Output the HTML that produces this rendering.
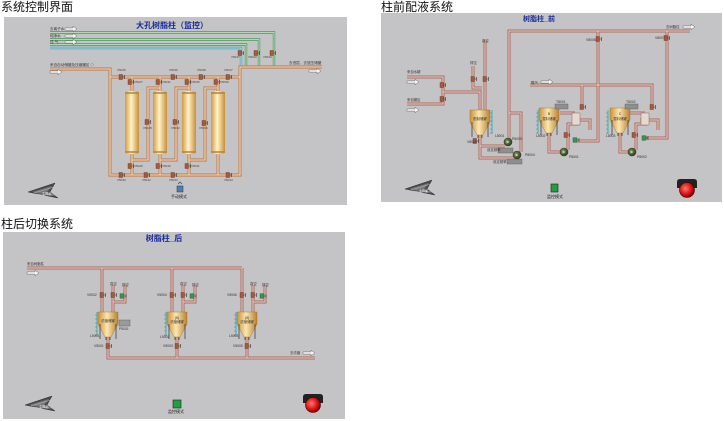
<!DOCTYPE html>
<html><head><meta charset="utf-8">
<style>
html,body{margin:0;padding:0;background:#fff;width:724px;height:421px;overflow:hidden}
svg{display:block}
</style></head>
<body>
<svg width="724" height="421" viewBox="0 0 724 421" xmlns="http://www.w3.org/2000/svg" xmlns:xlink="http://www.w3.org/1999/xlink" font-family="'Liberation Sans','Noto Sans CJK SC',sans-serif">
<defs>
  <linearGradient id="gc" x1="0" x2="1" y1="0" y2="0">
    <stop offset="0" stop-color="#d49a3e"/><stop offset=".45" stop-color="#fff3cc"/><stop offset="1" stop-color="#c98f32"/>
  </linearGradient>
  <linearGradient id="gt" x1="0" x2="1" y1="0" y2="0">
    <stop offset="0" stop-color="#c8923a"/><stop offset=".45" stop-color="#fbe6b0"/><stop offset="1" stop-color="#b9822c"/>
  </linearGradient>
  <radialGradient id="gr" cx=".4" cy=".4" r=".6">
    <stop offset="0" stop-color="#ff7a70"/><stop offset=".6" stop-color="#e01818"/><stop offset="1" stop-color="#8a0000"/>
  </radialGradient>
  <radialGradient id="gp" cx=".4" cy=".4" r=".6">
    <stop offset="0" stop-color="#6e9a5e"/><stop offset="1" stop-color="#2a3e26"/>
  </radialGradient>
  <g id="v"><rect x="-2" y="-2.5" width="3.5" height="5" fill="#a65a3c" stroke="#6a3422" stroke-width=".4"/><path d="M1.5,0h2M3.5,-2v4" stroke="#333" stroke-width=".6" fill="none"/></g>
  <g id="vg"><rect x="-2" y="-2.2" width="4" height="4.4" fill="#2f9a4a" stroke="#1d4d2a" stroke-width=".4"/><path d="M2,0h2M4,-2v4" stroke="#333" stroke-width=".6" fill="none"/></g>
  <g id="ar"><path d="M0,-1.1h8v-1.7l4,2.8l-4,2.8v-1.7h-8z" fill="#f4f4f4" stroke="#6a6a6a" stroke-width=".5"/></g>
  <g id="tk">
    <path d="M-10,0H10V12L3,25H-3L-10,12Z" fill="url(#gt)" stroke="#9a7030" stroke-width=".4"/>
    <path d="M-8,12V27M8,12V27M-2,25V28M2,25V28" stroke="#333" stroke-width=".7"/>
  </g>
  <g id="pm"><circle r="4" fill="url(#gp)" stroke="#5a3024" stroke-width=".6"/><path d="M-1.5,-1.5L1.5,0L-1.5,1.5Z" fill="#aee0a0"/></g>
  <g id="gg"><path d="M0,0V24" stroke="#3ab0b8" stroke-width="1"/><path d="M-2,3h2M-2,7h2M-2,11h2M-2,15h2M-2,19h2M-2,23h2" stroke="#2a8a98" stroke-width=".6"/></g>
  <g id="back">
    <path d="M0,0L27,-9L22,0L30,6Z" fill="#4a4a4a" stroke="#2e2e2e" stroke-width=".5"/>
    <path d="M4,0L24,-6L19,0L26,4Z" fill="#7a7a7a"/>
    <path d="M6,1L26,-5M8,2L27,3" stroke="#ccc" stroke-width=".4"/>
  </g>
  <g id="rb">
    <path d="M-10,-2V-8Q-10,-11 -7,-11H7Q10,-11 10,-8V-2Z" fill="#222"/>
    <circle r="7.5" fill="url(#gr)" stroke="#3a0000" stroke-width=".6"/>
  </g>
</defs>

<!-- section titles -->
<text x="1" y="11" font-size="12" fill="#111">系统控制界面</text>
<text x="381" y="11" font-size="12" fill="#111">柱前配液系统</text>
<text x="1" y="228" font-size="12" fill="#111">柱后切换系统</text>

<!-- panels -->
<rect x="4" y="17" width="343" height="188" fill="#c4c4c6"/>
<rect x="381" y="13" width="341" height="189" fill="#c4c4c6"/>
<rect x="3" y="232" width="342" height="187" fill="#c4c4c6"/>

<!-- ================= PANEL 1 ================= -->
<text x="172" y="28" font-size="8" font-weight="bold" fill="#1a2a9a" text-anchor="middle">大孔树脂柱（监控）</text>

<!-- green supply lines -->
<g fill="none">
  <path d="M50,32.5H274V66M50,39.5H259V66M50,44.5H246V66" stroke="#4d9a5c" stroke-width="2.4"/>
  <path d="M50,32.5H274V66M50,39.5H259V66M50,44.5H246V66" stroke="#d6ecd4" stroke-width=".8"/>
  <path d="M50,48H241V66" stroke="#4aa0b4" stroke-width="2.4"/>
  <path d="M50,48H241V66" stroke="#d0eef2" stroke-width=".8"/>
</g>
<g font-size="3.6" fill="#333">
  <text x="50" y="30">去离子水</text><text x="50" y="37">纯净水</text><text x="50" y="43">压 气</text>
</g>
<use xlink:href="#ar" x="65" y="29"/><use xlink:href="#ar" x="65" y="36"/><use xlink:href="#ar" x="65" y="42"/>
<use xlink:href="#v" x="240" y="53"/><use xlink:href="#v" x="256" y="53"/><use xlink:href="#v" x="272" y="53"/>
<g font-size="3" fill="#444"><text x="231" y="58">V5037</text><text x="248" y="58">V5033</text><text x="263" y="58">V5034</text></g>

<!-- orange pipes -->
<g id="p1" fill="none">
  <path d="M50,69H110V175H240V67H322"/>
  <path d="M110,77H240"/>
  <path d="M132,77V92M160,77V92M189,77V92M218,77V92"/>
  <path d="M132,153V175M160,153V175M189,153V175M218,153V175"/>
  <path d="M132,160H148V88H160M160,160H176V88H189M189,160H205V88H218"/>
</g>
<use xlink:href="#p1" stroke="#c0845a" stroke-width="3.2"/>
<use xlink:href="#p1" stroke="#f4d6b6" stroke-width="1.1"/>

<!-- columns -->
<g>
  <rect x="125" y="91" width="14" height="63" rx="3" fill="url(#gc)"/>
  <rect x="153" y="91" width="14" height="63" rx="3" fill="url(#gc)"/>
  <rect x="182" y="91" width="14" height="63" rx="3" fill="url(#gc)"/>
  <rect x="211" y="91" width="14" height="63" rx="3" fill="url(#gc)"/>
  <path d="M125,93h14M153,93h14M182,93h14M211,93h14M125,152h14M153,152h14M182,152h14M211,152h14" stroke="#b98232" stroke-width="1.4"/>
</g>

<g font-size="3.6" fill="#333">
  <text x="50" y="66">来自自动储罐及压缩罐区 ◇</text>
  <text x="289" y="64">去低层，去放压储罐</text>
</g>
<use xlink:href="#ar" x="50" y="72"/><use xlink:href="#ar" x="309" y="71"/>

<!-- valves panel 1 -->
<use xlink:href="#v" x="121" y="77"/><use xlink:href="#v" x="173" y="77"/><use xlink:href="#v" x="201" y="77"/><use xlink:href="#v" x="228" y="77"/>
<use xlink:href="#v" x="130" y="82"/><use xlink:href="#v" x="158" y="82"/><use xlink:href="#v" x="187" y="82"/><use xlink:href="#v" x="216" y="82"/>
<use xlink:href="#v" x="147" y="122"/><use xlink:href="#v" x="175" y="122"/><use xlink:href="#v" x="204" y="123"/>
<use xlink:href="#v" x="130" y="166"/><use xlink:href="#v" x="158" y="166"/><use xlink:href="#v" x="187" y="166"/>
<use xlink:href="#v" x="121" y="175"/><use xlink:href="#v" x="146" y="175"/><use xlink:href="#v" x="173" y="175"/><use xlink:href="#v" x="228" y="175"/>
<g font-size="3" fill="#444">
  <text x="117" y="71">V5035</text><text x="169" y="71">V5036</text><text x="197" y="71">V5038</text><text x="224" y="71">V5037</text>
  <text x="134" y="83">V5027</text><text x="162" y="83">V5031</text><text x="191" y="83">V5035</text><text x="220" y="83">V5039</text>
  <text x="143" y="129">V5028</text><text x="171" y="129">V5032</text><text x="199" y="129">V5036</text>
  <text x="134" y="167">V5029</text><text x="162" y="167">V5040</text><text x="191" y="167">V5041</text>
  <text x="117" y="181">V5030</text><text x="142" y="181">V5042</text><text x="169" y="181">V5043</text><text x="224" y="181">V5044</text>
</g>

<use xlink:href="#back" x="28" y="192"/>
<text x="42" y="195" font-size="3.2" fill="#eee">主界面</text>
<rect x="177" y="186" width="6" height="6" fill="#4a80b8" stroke="#333" stroke-width=".5"/>
<path d="M178,184l2,-2l2,2" stroke="#555" stroke-width=".8" fill="none"/>
<text x="171" y="198" font-size="4" fill="#222">手动模式</text>

<!-- ================= PANEL 2 ================= -->
<text x="539" y="21" font-size="7" font-weight="bold" fill="#1a2a9a" text-anchor="middle">树脂柱_前</text>

<g id="p2" fill="none">
  <path d="M509,142V31H690"/>
  <path d="M598,31V141H575"/>
  <path d="M667,31V138H643"/>
  <path d="M407,77H443V104H407"/>
  <path d="M443,92H480V110"/>
  <path d="M485,40V110"/>
  <path d="M473,66V88H482"/>
  <path d="M530,85H652V106"/>
  <path d="M582,85V106"/>
  <path d="M509,113H521V152"/>
  <path d="M480,135V158H517"/>
  <path d="M480,146H505"/>
  <path d="M549,133V152H561"/>
  <path d="M568,150V124H578V113"/>
  <path d="M572,120H590V130"/>
  <path d="M620,133V152H628"/>
  <path d="M636,150V124H646V113"/>
  <path d="M640,120H658V130"/>
  <path d="M560,113H575M630,113H645"/>
</g>
<use xlink:href="#p2" stroke="#a86a5e" stroke-width="3"/>
<use xlink:href="#p2" stroke="#ecd2ca" stroke-width="1"/>

<!-- exchangers -->
<rect x="572" y="113" width="8" height="12" fill="#e8d8d2" stroke="#8a6a60" stroke-width=".5"/>
<rect x="641" y="113" width="8" height="12" fill="#e8d8d2" stroke="#8a6a60" stroke-width=".5"/>

<use xlink:href="#tk" x="480" y="110"/>
<use xlink:href="#tk" x="549" y="108"/>
<use xlink:href="#tk" x="620" y="108"/>
<use xlink:href="#gg" x="492" y="110"/>
<use xlink:href="#gg" x="538" y="110"/>
<use xlink:href="#gg" x="608" y="110"/>
<g font-size="3.4" fill="#333" text-anchor="middle">
  <text x="480" y="120">配制储罐</text>
  <text x="549" y="115">B</text><text x="549" y="120">混料储罐</text>
  <text x="620" y="115">C</text><text x="620" y="120">混料储罐</text>
</g>

<rect x="555" y="104" width="13" height="5" fill="#8e8e8e" stroke="#5a5a5a" stroke-width=".4"/>
<rect x="625" y="104" width="13" height="5" fill="#8e8e8e" stroke="#5a5a5a" stroke-width=".4"/>
<rect x="498" y="148" width="15" height="5" fill="#8e8e8e" stroke="#5a5a5a" stroke-width=".4"/>
<rect x="507" y="159" width="15" height="5" fill="#8e8e8e" stroke="#5a5a5a" stroke-width=".4"/>

<use xlink:href="#pm" x="508" y="142"/><use xlink:href="#pm" x="517" y="155"/>
<use xlink:href="#pm" x="564" y="152"/><use xlink:href="#pm" x="632" y="152"/>

<use xlink:href="#v" x="442" y="85"/><use xlink:href="#v" x="442" y="99"/>
<use xlink:href="#v" x="473" y="79"/><use xlink:href="#v" x="485" y="79"/>
<use xlink:href="#v" x="598" y="39"/><use xlink:href="#v" x="666" y="38"/>
<use xlink:href="#v" x="582" y="107"/><use xlink:href="#v" x="652" y="107"/>
<use xlink:href="#v" x="475" y="141"/><use xlink:href="#v" x="566" y="135"/><use xlink:href="#v" x="634" y="135"/>
<use xlink:href="#vg" x="575" y="140"/><use xlink:href="#vg" x="644" y="138"/>

<g font-size="3.4" fill="#333">
  <text x="407" y="73">来自水罐</text><text x="407" y="101">来自罐区</text>
  <text x="482" y="42">真空</text><text x="470" y="64">排空</text>
  <text x="531" y="84">酸汽</text>
  <text x="666" y="28">去树脂柱</text>
  <text x="487" y="151">设定频率</text><text x="493" y="163">设定频率</text>
  <text x="556" y="103">T8001</text><text x="626" y="103">T8002</text>
  <text x="525" y="156">P8004</text><text x="512" y="140">P8003</text>
  <text x="569" y="158">P8001</text><text x="637" y="158">P8002</text>
  <text x="586" y="41">V8006</text><text x="655" y="39">V8007</text>
  <text x="467" y="143">V8008</text><text x="495" y="137">L8001</text>
  <text x="536" y="137">L8002</text><text x="606" y="137">L8003</text>
</g>
<use xlink:href="#ar" x="407" y="82"/><use xlink:href="#ar" x="407" y="110"/>
<use xlink:href="#ar" x="541" y="82"/><use xlink:href="#ar" x="683" y="27"/>

<use xlink:href="#back" x="405" y="189"/>
<text x="419" y="192" font-size="3" fill="#eee">主界面</text>
<rect x="551" y="184" width="7" height="8" fill="#1fa040" stroke="#222" stroke-width=".6"/>
<text x="547" y="198" font-size="4" fill="#222">监控模式</text>
<use xlink:href="#rb" x="687" y="190"/>

<!-- ================= PANEL 3 ================= -->
<text x="164" y="241" font-size="8" font-weight="bold" fill="#1a2a9a" text-anchor="middle">树脂柱_后</text>

<g id="p3" fill="none">
  <path d="M27,268H242"/>
  <path d="M102,268V312M172,268V312M242,268V312"/>
  <path d="M113,285V312M183,285V312M253,285V312"/>
  <path d="M125,285V302H113M195,285V302H183M265,285V302H253"/>
  <path d="M108,337V358H315M177,337V358M247,337V358"/>
</g>
<use xlink:href="#p3" stroke="#a86a5e" stroke-width="3"/>
<use xlink:href="#p3" stroke="#ecd2ca" stroke-width="1"/>

<use xlink:href="#tk" x="108" y="312"/>
<use xlink:href="#tk" x="177" y="312"/>
<use xlink:href="#tk" x="247" y="312"/>
<use xlink:href="#gg" x="97" y="312"/>
<use xlink:href="#gg" x="166" y="312"/>
<use xlink:href="#gg" x="236" y="312"/>
<g font-size="3.4" fill="#333" text-anchor="middle">
  <text x="108" y="322">浓缩储罐</text>
  <text x="177" y="319">(8)</text><text x="177" y="323">浓缩储罐</text>
  <text x="247" y="319">(8)</text><text x="247" y="323">浓缩储罐</text>
</g>
<rect x="119" y="320" width="11" height="6" fill="#9a9a9a" stroke="#555" stroke-width=".4"/>

<use xlink:href="#v" x="102" y="295"/><use xlink:href="#v" x="113" y="295"/><use xlink:href="#vg" x="122" y="296"/>
<use xlink:href="#v" x="172" y="295"/><use xlink:href="#v" x="183" y="295"/><use xlink:href="#vg" x="192" y="296"/>
<use xlink:href="#v" x="242" y="295"/><use xlink:href="#v" x="253" y="295"/><use xlink:href="#vg" x="262" y="296"/>
<use xlink:href="#v" x="108" y="346"/><use xlink:href="#v" x="177" y="346"/><use xlink:href="#v" x="247" y="346"/>

<g font-size="3.4" fill="#333">
  <text x="27" y="265">来自树脂柱</text>
  <text x="110" y="285">真空</text><text x="122" y="286">排空</text>
  <text x="180" y="285">真空</text><text x="192" y="286">排空</text>
  <text x="250" y="285">真空</text><text x="262" y="286">排空</text>
  <text x="290" y="354">去浓缩</text>
  <text x="87" y="296">V5002</text><text x="157" y="296">V5004</text><text x="227" y="296">V5006</text>
  <text x="94" y="347">V5001</text><text x="163" y="347">V5003</text><text x="233" y="347">V5005</text>
  <text x="90" y="337">L5001</text><text x="160" y="338">L5002</text><text x="229" y="337">L5003</text>
  <text x="119" y="330">P5001</text>
</g>
<use xlink:href="#ar" x="27" y="273"/><use xlink:href="#ar" x="303" y="353"/>

<use xlink:href="#back" x="25" y="405"/>
<text x="39" y="408" font-size="3.2" fill="#eee">主界面</text>
<rect x="173" y="400" width="8" height="8" fill="#1fa040" stroke="#222" stroke-width=".6"/>
<text x="168" y="413" font-size="4" fill="#222">监控模式</text>
<use xlink:href="#rb" x="313" y="405"/>
</svg>
</body></html>
